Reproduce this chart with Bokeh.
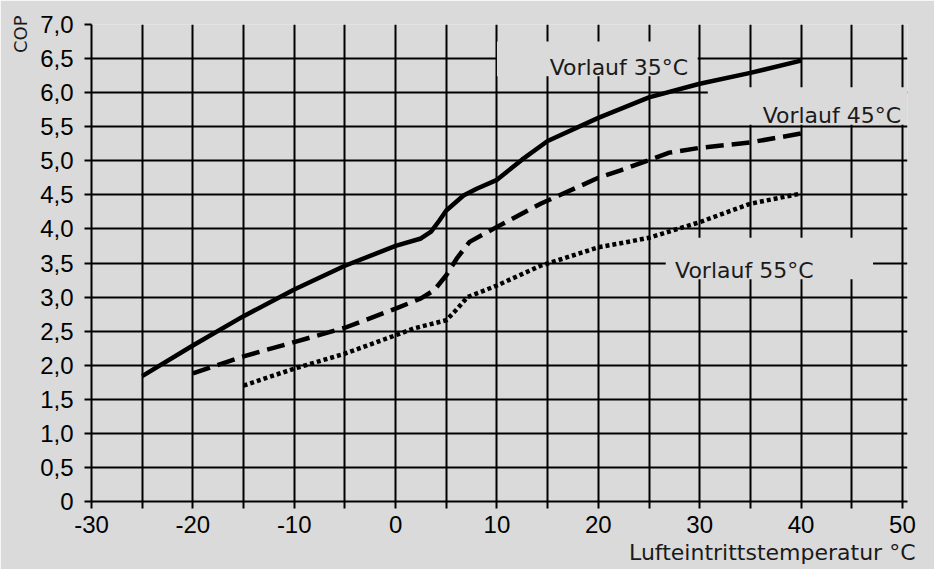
from bokeh.plotting import figure
from bokeh.models import FixedTicker, CustomJSTickFormatter, Label, Title
from bokeh.embed import file_html
from bokeh.resources import INLINE

# ---- data ----
X35 = [-25, -20, -15, -10, -5, 0, 2.5, 3.5, 4.3, 5, 6.7, 8, 10, 12.5, 15, 20, 25, 30, 35, 40]
Y35 = [1.84, 2.29, 2.72, 3.11, 3.46, 3.75, 3.86, 3.96, 4.12, 4.27, 4.49, 4.59, 4.72, 5.02, 5.29, 5.63, 5.93, 6.13, 6.29, 6.47]

X45 = [-20, -15, -10, -5, 0, 2.5, 3.8, 5, 6.1, 7.3, 10, 14.3, 20, 22.2, 25, 27, 30, 35, 40]
Y45 = [1.88, 2.13, 2.34, 2.55, 2.83, 2.98, 3.10, 3.32, 3.58, 3.81, 4.03, 4.37, 4.75, 4.86, 5.01, 5.12, 5.19, 5.27, 5.40]

X55 = [-15, -10, -5, 0, 1.8, 5, 6.1, 7.1, 10, 14.3, 20, 22.2, 25, 30, 35, 40]
Y55 = [1.70, 1.95, 2.17, 2.44, 2.54, 2.66, 2.83, 3.00, 3.17, 3.46, 3.73, 3.79, 3.87, 4.10, 4.37, 4.52]

SERIES_NAMES = ["Vorlauf 35°C", "Vorlauf 45°C", "Vorlauf 55°C"]

X_TICKS = [-30, -25, -20, -15, -10, -5, 0, 5, 10, 15, 20, 25, 30, 35, 40, 45, 50]
X_TICK_LABELS = ["-30", "", "-20", "", "-10", "", "0", "", "10", "", "20", "", "30", "", "40", "", "50"]
Y_TICKS = [0, 0.5, 1.0, 1.5, 2.0, 2.5, 3.0, 3.5, 4.0, 4.5, 5.0, 5.5, 6.0, 6.5, 7.0]
Y_TICK_LABELS = ["0", "0,5", "1,0", "1,5", "2,0", "2,5", "3,0", "3,5", "4,0", "4,5",
                 "5,0", "5,5", "6,0", "6,5", "7,0"]

X_TITLE = "Lufteintrittstemperatur °C"
Y_TITLE = "COP"

BG = "#dadada"
INK = "#000000"
TXT = "#1a1a1a"
LABEL_FONT = "DejaVu Sans"
TICK_FONT = "Liberation Sans"

p = figure(width=934, height=569, x_range=(-30, 50.5), y_range=(0, 7.0),
           output_backend="svg", toolbar_location=None,
           min_border_left=90, min_border_right=27, min_border_top=24, min_border_bottom=68,
           background_fill_color=BG, border_fill_color=BG, outline_line_color=None)

fmt_code = """
const i = vals.findIndex(v => Math.abs(v - tick) < 1e-9);
return i >= 0 ? labs[i] : '';
"""
p.xaxis.ticker = FixedTicker(ticks=X_TICKS)
p.yaxis.ticker = FixedTicker(ticks=Y_TICKS)
p.xaxis.formatter = CustomJSTickFormatter(args=dict(vals=X_TICKS, labs=X_TICK_LABELS), code=fmt_code)
p.yaxis.formatter = CustomJSTickFormatter(args=dict(vals=Y_TICKS, labs=Y_TICK_LABELS), code=fmt_code)

for ax in (p.xaxis, p.yaxis):
    ax.axis_line_color = INK
    ax.axis_line_width = 2
    ax.major_tick_line_color = INK
    ax.major_tick_line_width = 2
    ax.major_tick_out = 7
    ax.major_tick_in = 0
    ax.minor_tick_line_color = None
    ax.major_label_text_font = TICK_FONT
    ax.major_label_text_font_size = "24px"
    ax.major_label_text_color = "#000000"
p.yaxis.major_label_standoff = 11
p.xaxis.major_label_standoff = 7

p.add_layout(Title(text=X_TITLE, align="right", offset=-8, standoff=5,
                   text_font=LABEL_FONT, text_font_size="22px", text_font_style="normal",
                   text_color=TXT), "below")
p.add_layout(Title(text=Y_TITLE, align="right", offset=-9, standoff=14,
                   text_font=LABEL_FONT, text_font_size="18px", text_font_style="normal",
                   text_color=TXT), "left")

for g in (p.xgrid, p.ygrid):
    g.grid_line_color = INK
    g.grid_line_width = 2
    g.grid_line_alpha = 1.0

# background-coloured boxes behind the curve labels (hide the grid there)
p.quad(left=[10.0, 30.8, 26.65], right=[29.8, 50.5, 47.1],
       bottom=[6.24, 5.53, 3.26], top=[6.75, 6.08, 3.87],
       fill_color=BG, line_color=None)

p.line(X35, Y35, line_color=INK, line_width=4.5, line_join="round", line_cap="butt")
p.line(X45, Y45, line_color=INK, line_width=4.5, line_dash="18 8", line_join="round", line_cap="butt")
p.line(X55, Y55, line_color=INK, line_width=4.5, line_dash="4 3", line_join="miter", line_cap="butt")

lab_common = dict(text_font=LABEL_FONT, text_font_size="22px", text_color=TXT,
                  text_baseline="alphabetic")
p.add_layout(Label(x=15.2, y=6.365, text=SERIES_NAMES[0], text_align="left", **lab_common))
p.add_layout(Label(x=49.87, y=5.665, text=SERIES_NAMES[1], text_align="right", **lab_common))
p.add_layout(Label(x=27.57, y=3.39, text=SERIES_NAMES[2], text_align="left", **lab_common))

open("out.html", "w").write(file_html(p, INLINE))
